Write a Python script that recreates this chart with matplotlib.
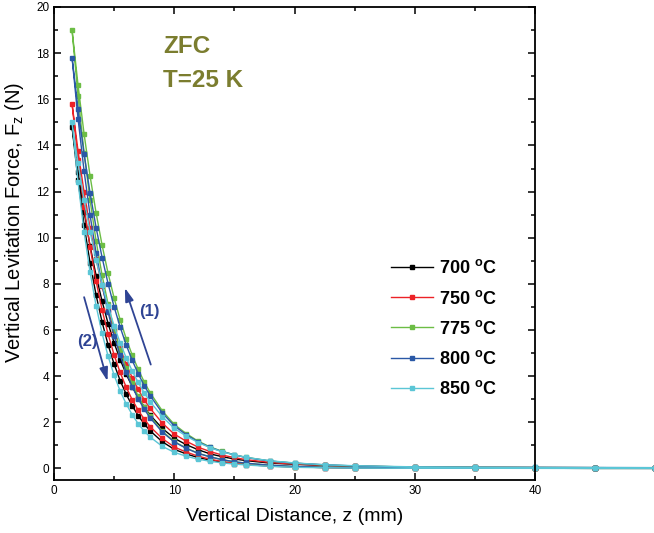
import matplotlib
matplotlib.use('Agg')
import matplotlib.pyplot as plt
from matplotlib.ticker import MultipleLocator

plt.rcParams['font.family'] = ['Liberation Sans', 'DejaVu Sans']
plt.rcParams['mathtext.fontset'] = 'custom'
plt.rcParams['mathtext.rm'] = 'Liberation Sans'
plt.rcParams['mathtext.bf'] = 'Liberation Sans:bold'
plt.rcParams['mathtext.it'] = 'Liberation Sans:italic'

# gap z (mm) where force was sampled
z = [1.5, 2, 2.5, 3, 3.5, 4, 4.5, 5, 5.5, 6, 6.5, 7, 7.5, 8, 9, 10, 11, 12, 13, 14,
     15, 16, 18, 20, 22.5, 25, 30, 35, 40, 45, 50]

# approach branch (1), force in N
f700_up = [14.80, 12.83, 11.12, 9.64, 8.36, 7.24, 6.28, 5.44, 4.72, 4.09, 3.55, 3.07, 2.67, 2.31,
           1.74, 1.31, 1.03, 0.81, 0.63, 0.51, 0.41, 0.34, 0.23, 0.18, 0.13, 0.09, 0.06, 0.045,
           0.04, 0.035, 0.03]
f750_up = [15.80, 13.75, 11.97, 10.42, 9.07, 7.89, 6.87, 5.98, 5.20, 4.53, 3.94, 3.43, 2.98, 2.60,
           1.97, 1.49, 1.18, 0.92, 0.73, 0.58, 0.47, 0.38, 0.26, 0.19, 0.14, 0.10, 0.06, 0.05,
           0.04, 0.035, 0.03]
f775_up = [19.00, 16.60, 14.50, 12.67, 11.07, 9.67, 8.45, 7.38, 6.44, 5.63, 4.92, 4.30, 3.75, 3.28,
           2.50, 1.91, 1.51, 1.18, 0.93, 0.74, 0.59, 0.48, 0.32, 0.23, 0.15, 0.11, 0.06, 0.05,
           0.04, 0.035, 0.03]
f800_up = [17.80, 15.58, 13.63, 11.93, 10.44, 9.14, 8.00, 7.00, 6.13, 5.36, 4.69, 4.11, 3.59, 3.15,
           2.41, 1.85, 1.46, 1.15, 0.91, 0.73, 0.59, 0.47, 0.32, 0.23, 0.16, 0.11, 0.06, 0.05,
           0.045, 0.04, 0.035]
f850_up = [15.00, 13.22, 11.64, 10.26, 9.04, 7.97, 7.02, 6.18, 5.45, 4.80, 4.23, 3.73, 3.28, 2.89,
           2.25, 1.74, 1.40, 1.12, 0.90, 0.72, 0.59, 0.48, 0.33, 0.24, 0.16, 0.12, 0.07, 0.055,
           0.045, 0.04, 0.035]

# withdrawal branch (2), force in N
f700_dn = [14.80, 12.49, 10.55, 8.90, 7.51, 6.34, 5.35, 4.52, 3.81, 3.22, 2.72, 2.29, 1.93, 1.63,
           1.16, 0.83, 0.63, 0.47, 0.36, 0.27, 0.21, 0.17, 0.10, 0.07, 0.04, 0.03, 0.02, 0.01,
           0.01, 0.005, 0.005]
f750_dn = [15.80, 13.37, 11.32, 9.58, 8.11, 6.87, 5.81, 4.92, 4.16, 3.53, 2.98, 2.53, 2.14, 1.81,
           1.30, 0.93, 0.71, 0.53, 0.40, 0.30, 0.24, 0.19, 0.11, 0.07, 0.04, 0.03, 0.02, 0.01,
           0.01, 0.005, 0.005]
f775_dn = [19.00, 16.13, 13.69, 11.62, 9.86, 8.37, 7.11, 6.03, 5.12, 4.35, 3.69, 3.13, 2.66, 2.26,
           1.62, 1.17, 0.88, 0.66, 0.50, 0.38, 0.29, 0.22, 0.14, 0.08, 0.05, 0.03, 0.02, 0.01,
           0.01, 0.005, 0.005]
f800_dn = [17.80, 15.15, 12.89, 10.97, 9.34, 7.95, 6.76, 5.75, 4.90, 4.17, 3.55, 3.02, 2.57, 2.19,
           1.58, 1.15, 0.87, 0.65, 0.50, 0.38, 0.29, 0.23, 0.14, 0.09, 0.05, 0.03, 0.02, 0.015,
           0.01, 0.01, 0.005]
f850_dn = [15.00, 12.40, 10.25, 8.50, 7.05, 5.85, 4.86, 4.04, 3.36, 2.80, 2.33, 1.94, 1.62, 1.36,
           0.96, 0.70, 0.53, 0.40, 0.31, 0.24, 0.19, 0.15, 0.09, 0.05, 0.03, 0.02, 0.01, 0.01,
           0.005, 0.0, 0.0]

labels = ['700 $\\mathbf{^o}$C', '750 $\\mathbf{^o}$C', '775 $\\mathbf{^o}$C',
          '800 $\\mathbf{^o}$C', '850 $\\mathbf{^o}$C']
colors = ['#000000', '#ec2227', '#6cbd45', '#2a58a6', '#5bc6d6']
ups = [f700_up, f750_up, f775_up, f800_up, f850_up]
dns = [f700_dn, f750_dn, f775_dn, f800_dn, f850_dn]

fig = plt.figure(figsize=(6.54, 5.33), dpi=100)
ax = fig.add_axes([0.0826, 0.0994, 0.7355, 0.8875])

for up, dn, c, lab in zip(ups, dns, colors, labels):
    # approach from far away, then withdraw
    zz = z[::-1] + z[1:]
    ff = up[::-1] + dn[1:]
    ax.plot(zz, ff, '-', color=c, lw=1.0, marker='s', ms=2.8, mec=c, mfc=c,
            label=lab, clip_on=False)

ax.set_xlim(0, 40)
ax.set_ylim(-0.5, 20)
ax.xaxis.set_major_locator(MultipleLocator(10))
ax.xaxis.set_minor_locator(MultipleLocator(5))
ax.yaxis.set_major_locator(MultipleLocator(2))
ax.yaxis.set_minor_locator(MultipleLocator(1))
ax.tick_params(which='both', direction='in', top=True, right=True, labelsize=8.5, width=1.1)
ax.tick_params(which='major', length=5)
ax.tick_params(which='minor', length=3)
for s in ax.spines.values():
    s.set_linewidth(1.3)

ax.set_xlabel('Vertical Distance, z (mm)', fontsize=14, labelpad=8)
ax.set_ylabel('Vertical Levitation Force, F$_\\mathregular{z}$ (N)', fontsize=14.5)
ax.yaxis.set_label_coords(-0.058, 0.545)

olive = '#7b7d2f'
ax.text(9.05, 18.0, 'ZFC', color=olive, fontsize=17.5, fontweight='bold', va='baseline')
ax.text(9.05, 16.55, 'T=25 K', color=olive, fontsize=17.5, fontweight='bold', va='baseline')

arrow_col = '#2f4494'
ax.annotate('', xy=(5.82, 7.94), xytext=(8.12, 4.39),
            arrowprops=dict(arrowstyle='-|>,head_length=0.8,head_width=0.25', color=arrow_col, lw=1.3))
ax.annotate('', xy=(4.51, 3.67), xytext=(2.44, 7.54),
            arrowprops=dict(arrowstyle='-|>,head_length=0.8,head_width=0.25', color=arrow_col, lw=1.3))
ax.text(7.9, 6.8, '(1)', color=arrow_col, fontsize=12, fontweight='bold', ha='center', va='center')
ax.text(2.75, 5.5, '(2)', color=arrow_col, fontsize=12, fontweight='bold', ha='center', va='center')

leg = ax.legend(loc='upper left', bbox_to_anchor=(0.685, 0.482), frameon=False,
                prop={'weight': 'bold', 'size': 13}, handlelength=2.35, handletextpad=0.35,
                labelspacing=0.68, borderaxespad=0)

fig.savefig('out.png', dpi=100)
